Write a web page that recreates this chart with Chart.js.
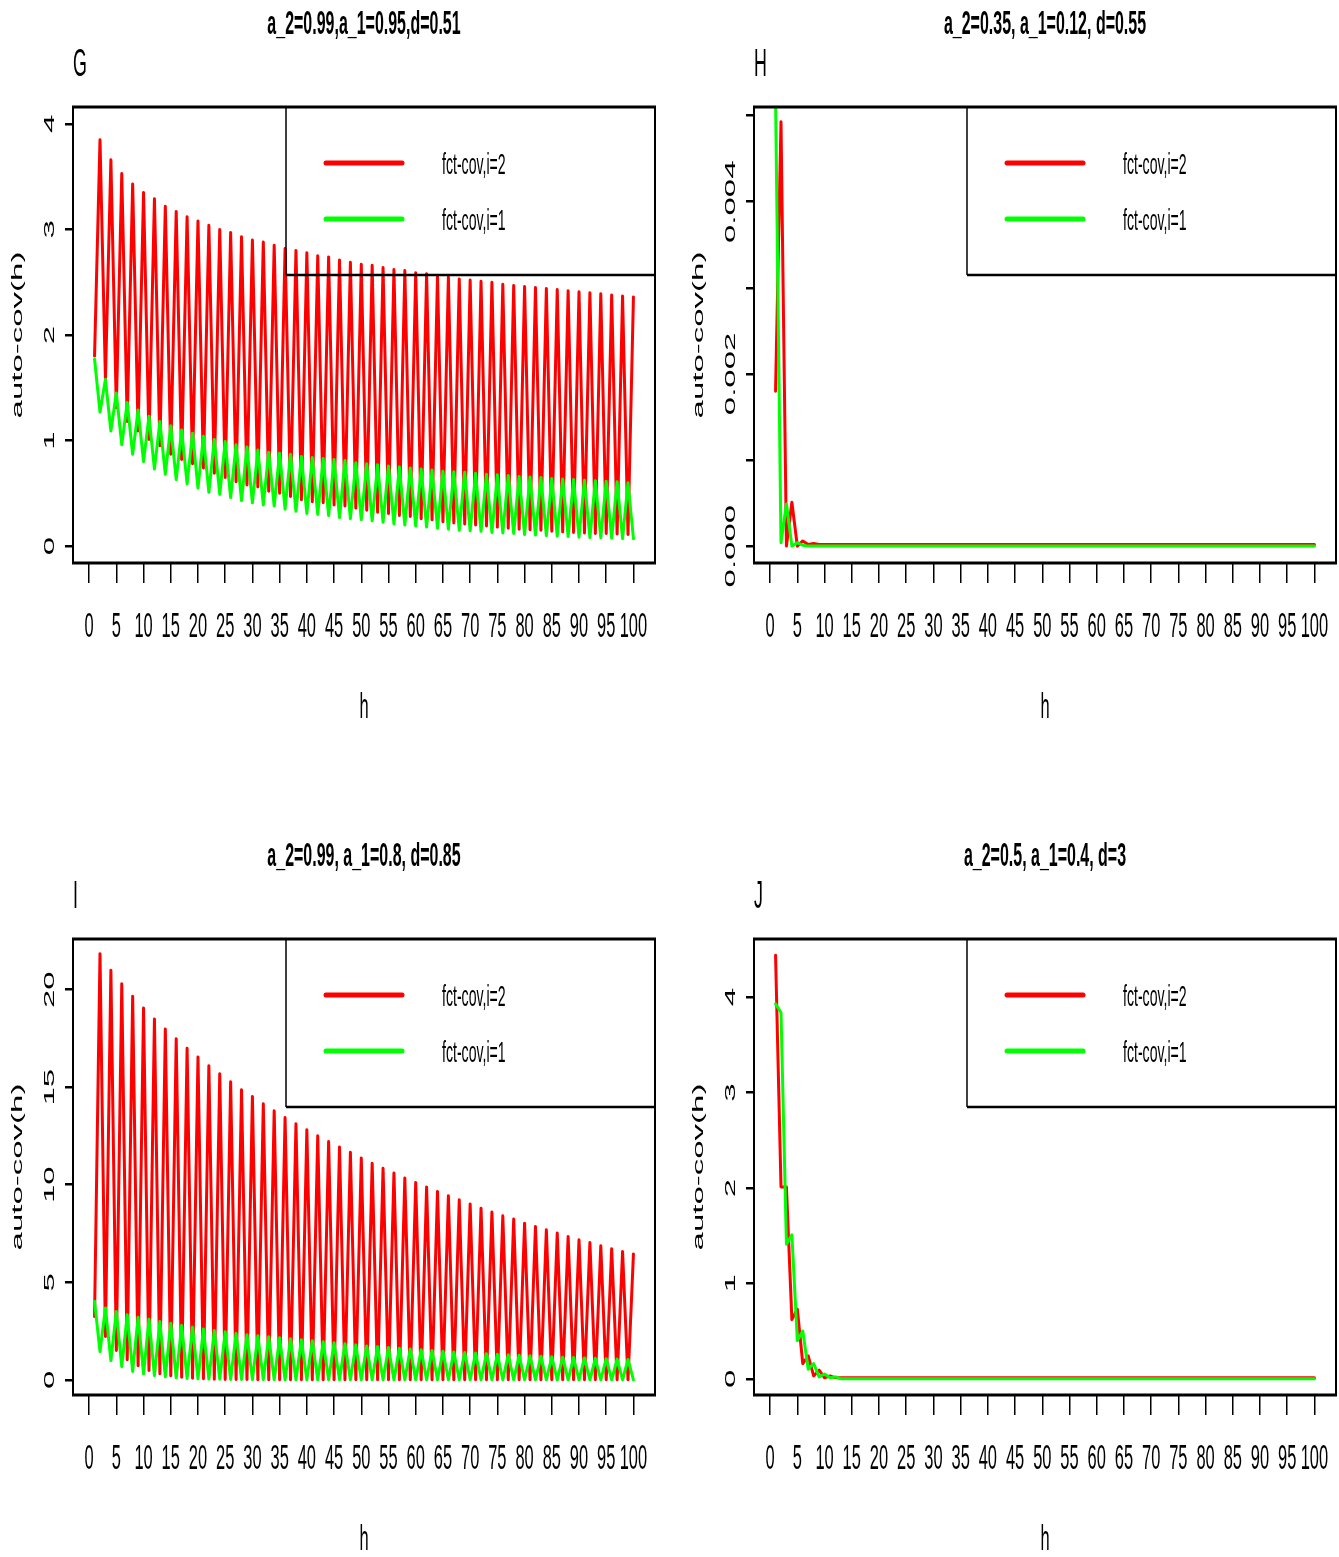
<!DOCTYPE html>
<html><head><meta charset="utf-8">
<script src="https://cdn.jsdelivr.net/npm/chart.js@4.4.1/dist/chart.umd.min.js"></script>
<style>
html,body{margin:0;padding:0;background:#fff;overflow:hidden;width:1339px;height:1557px}
canvas{position:absolute;display:block}
</style></head><body>
<canvas id="cG" width="669" height="725" style="left:0;top:0"></canvas>
<canvas id="cH" width="658" height="725" style="left:681px;top:0"></canvas>
<canvas id="cI" width="669" height="725" style="left:0;top:832px"></canvas>
<canvas id="cJ" width="658" height="725" style="left:681px;top:832px"></canvas>
<script>
// ---------- data ----------
const lags = [1,2,3,4,5,6,7,8,9,10,11,12,13,14,15,16,17,18,19,20,21,22,23,24,25,26,27,28,29,30,31,32,33,34,35,36,37,38,39,40,41,42,43,44,45,46,47,48,49,50,51,52,53,54,55,56,57,58,59,60,61,62,63,64,65,66,67,68,69,70,71,72,73,74,75,76,77,78,79,80,81,82,83,84,85,86,87,88,89,90,91,92,93,94,95,96,97,98,99,100];
const xTicks = [0,5,10,15,20,25,30,35,40,45,50,55,60,65,70,75,80,85,90,95,100];
const xTickLabels = ['0','5','10','15','20','25','30','35','40','45','50','55','60','65','70','75','80','85','90','95','100'];
const seriesLabels = ['fct-cov,i=2','fct-cov,i=1'];

const gRed = [1.80,3.85,1.58,3.66,1.31,3.53,1.18,3.43,1.09,3.35,
1.01,3.29,0.95,3.22,0.87,3.17,0.82,3.12,0.78,3.08,
0.74,3.04,0.69,3.00,0.65,2.97,0.61,2.93,0.58,2.90,
0.56,2.88,0.52,2.85,0.50,2.82,0.47,2.80,0.44,2.78,
0.42,2.75,0.41,2.74,0.39,2.71,0.38,2.69,0.36,2.67,
0.34,2.66,0.32,2.64,0.31,2.62,0.29,2.61,0.28,2.59,
0.26,2.58,0.25,2.56,0.23,2.55,0.22,2.53,0.21,2.52,
0.20,2.51,0.19,2.50,0.18,2.48,0.17,2.47,0.16,2.46,
0.155,2.45,0.15,2.44,0.14,2.43,0.135,2.42,0.13,2.41,
0.125,2.40,0.12,2.39,0.12,2.38,0.115,2.37,0.11,2.36];
const gGreen = [1.77,1.27,1.58,1.09,1.45,0.96,1.36,0.87,1.29,0.80,
1.23,0.73,1.18,0.68,1.14,0.63,1.10,0.59,1.07,0.55,
1.04,0.51,1.01,0.49,0.99,0.46,0.96,0.43,0.94,0.41,
0.91,0.39,0.89,0.38,0.88,0.35,0.87,0.33,0.85,0.31,
0.84,0.30,0.83,0.29,0.82,0.27,0.81,0.26,0.79,0.25,
0.78,0.24,0.77,0.225,0.76,0.21,0.75,0.20,0.74,0.19,
0.73,0.18,0.72,0.17,0.71,0.16,0.705,0.15,0.70,0.145,
0.69,0.14,0.68,0.13,0.675,0.125,0.67,0.12,0.66,0.11,
0.655,0.105,0.65,0.10,0.64,0.095,0.635,0.09,0.63,0.085,
0.625,0.08,0.62,0.08,0.615,0.075,0.61,0.07,0.60,0.07];

const hRed = [0.0018,0.00493,0.0,0.00051,0.0,0.00006,0.00002,0.00003,0.00002,0.00002,
0.00002,0.00002,0.00002,0.00002,0.00002,0.00002,0.00002,0.00002,0.00002,0.00002,
0.00002,0.00002,0.00002,0.00002,0.00002,0.00002,0.00002,0.00002,0.00002,0.00002,
0.00002,0.00002,0.00002,0.00002,0.00002,0.00002,0.00002,0.00002,0.00002,0.00002,
0.00002,0.00002,0.00002,0.00002,0.00002,0.00002,0.00002,0.00002,0.00002,0.00002,
0.00002,0.00002,0.00002,0.00002,0.00002,0.00002,0.00002,0.00002,0.00002,0.00002,
0.00002,0.00002,0.00002,0.00002,0.00002,0.00002,0.00002,0.00002,0.00002,0.00002,
0.00002,0.00002,0.00002,0.00002,0.00002,0.00002,0.00002,0.00002,0.00002,0.00002,
0.00002,0.00002,0.00002,0.00002,0.00002,0.00002,0.00002,0.00002,0.00002,0.00002,
0.00002,0.00002,0.00002,0.00002,0.00002,0.00002,0.00002,0.00002,0.00002,0.00002];
const hGreen = [0.0052,0.00004,0.00049,0.0,0.00004,0.00001,0,0,0,0,
0,0,0,0,0,0,0,0,0,0,
0,0,0,0,0,0,0,0,0,0,
0,0,0,0,0,0,0,0,0,0,
0,0,0,0,0,0,0,0,0,0,
0,0,0,0,0,0,0,0,0,0,
0,0,0,0,0,0,0,0,0,0,
0,0,0,0,0,0,0,0,0,0,
0,0,0,0,0,0,0,0,0,0,
0,0,0,0,0,0,0,0,0,0];

const iRed = [3.25,21.85,2.22,21.0,1.50,20.3,1.03,19.66,0.72,19.06,
0.48,18.5,0.31,17.98,0.21,17.49,0.13,17.0,0.08,16.55,
0.05,16.1,0.03,15.69,0.02,15.28,0.01,14.87,0.01,14.53,
0,14.15,0,13.79,0,13.45,0,13.13,0,12.82,
0,12.51,0,12.22,0,11.93,0,11.66,0,11.37,
0,11.1,0,10.85,0,10.6,0,10.34,0,10.12,
0,9.88,0,9.66,0,9.44,0,9.23,0,9.01,
0,8.80,0,8.60,0,8.41,0,8.24,0,8.03,
0,7.86,0,7.69,0,7.52,0,7.35,0,7.18,
0,7.04,0,6.87,0,6.72,0,6.58,0,6.45];
const iGreen = [4.02,1.45,3.68,0.99,3.50,0.68,3.33,0.43,3.21,0.31,
3.11,0.21,2.99,0.15,2.90,0.10,2.79,0.07,2.70,0.05,
2.60,0.04,2.53,0.03,2.46,0.02,2.38,0.02,2.31,0.01,
2.26,0.01,2.21,0.01,2.15,0,2.10,0,2.05,0,
2.00,0,1.95,0,1.90,0,1.85,0,1.79,0,
1.73,0,1.70,0,1.66,0,1.62,0,1.58,0,
1.54,0,1.50,0,1.46,0,1.43,0,1.40,0,
1.37,0,1.34,0,1.31,0,1.28,0,1.26,0,
1.23,0,1.21,0,1.18,0,1.16,0,1.14,0,
1.12,0,1.10,0,1.08,0,1.06,0,1.04,0];

const jRed = [4.44,2.01,2.01,0.62,0.73,0.16,0.24,0.03,0.09,0.01,
0.03,0.01,0.01,0.01,0.01,0.01,0.01,0.01,0.01,0.01,
0.01,0.01,0.01,0.01,0.01,0.01,0.01,0.01,0.01,0.01,
0.01,0.01,0.01,0.01,0.01,0.01,0.01,0.01,0.01,0.01,
0.01,0.01,0.01,0.01,0.01,0.01,0.01,0.01,0.01,0.01,
0.01,0.01,0.01,0.01,0.01,0.01,0.01,0.01,0.01,0.01,
0.01,0.01,0.01,0.01,0.01,0.01,0.01,0.01,0.01,0.01,
0.01,0.01,0.01,0.01,0.01,0.01,0.01,0.01,0.01,0.01,
0.01,0.01,0.01,0.01,0.01,0.01,0.01,0.01,0.01,0.01,
0.01,0.01,0.01,0.01,0.01,0.01,0.01,0.01,0.01,0.01];
const jGreen = [3.93,3.84,1.41,1.51,0.40,0.50,0.10,0.16,0.02,0.05,
0.01,0.02,0,0,0,0,0,0,0,0,
0,0,0,0,0,0,0,0,0,0,
0,0,0,0,0,0,0,0,0,0,
0,0,0,0,0,0,0,0,0,0,
0,0,0,0,0,0,0,0,0,0,
0,0,0,0,0,0,0,0,0,0,
0,0,0,0,0,0,0,0,0,0,
0,0,0,0,0,0,0,0,0,0,
0,0,0,0,0,0,0,0,0,0];

const gYTicks = [0,1,2,3,4];             const gYLabels = ['0','1','2','3','4'];
const hYTicks = [0,0.001,0.002,0.003,0.004,0.005]; const hYLabels = ['0.000','','0.002','','0.004',''];
const iYTicks = [0,5,10,15,20];          const iYLabels = ['0','5','10','15','20'];
const jYTicks = [0,1,2,3,4];             const jYLabels = ['0','1','2','3','4'];

const titles = ['a_2=0.99,a_1=0.95,d=0.51','a_2=0.35, a_1=0.12, d=0.55','a_2=0.99, a_1=0.8, d=0.85','a_2=0.5, a_1=0.4, d=3'];
const letters = ['G','H','I','J'];
const xTitle = 'h';
const yTitle = 'auto-cov(h)';

// ---------- drawing helpers ----------
const SX = 0.47;
const FONT = '"Liberation Sans", Arial, Helvetica, sans-serif';
const AREA = {left:73, top:107, right:655, bottom:563};
const CH = 725;

function txt(ctx, s, x, y, size, opt) {
  opt = opt || {};
  ctx.save();
  ctx.translate(x, y);
  ctx.scale(opt.sx || SX, 1);
  if (opt.rot) ctx.rotate(opt.rot);
  ctx.font = (opt.bold ? 'bold ' : '') + size + 'px ' + FONT;
  ctx.textAlign = opt.align || 'center';
  ctx.textBaseline = 'middle';
  ctx.fillStyle = '#000';
  ctx.fillText(s, 0, 0);
  ctx.restore();
}
function line(ctx, x1, y1, x2, y2, w) {
  ctx.beginPath(); ctx.lineWidth = w; ctx.strokeStyle = '#000';
  ctx.moveTo(x1, y1); ctx.lineTo(x2, y2); ctx.stroke();
}

const decor = {
  id: 'rdecor',
  afterDraw(chart, args, o) {
    const ctx = chart.ctx, a = chart.chartArea;
    const xs = chart.scales.x, ys = chart.scales.y;
    ctx.save();
    // plot box
    line(ctx, a.left - 1, a.top, a.right + 1, a.top, 3);
    line(ctx, a.left - 1, a.bottom, a.right + 1, a.bottom, 3);
    line(ctx, a.left, a.top, a.left, a.bottom, 2);
    line(ctx, a.right, a.top, a.right, a.bottom, 2);
    // title and letter
    const cx = (a.left + a.right) / 2;
    txt(ctx, o.title, cx, 25, 34, {bold: true});
    txt(ctx, o.letter, a.left, 66, 38, {align: 'left'});
    // x tick labels
    xTicks.forEach((v, i) => txt(ctx, xTickLabels[i], xs.getPixelForValue(v), 627, 35));
    txt(ctx, xTitle, cx, 708, 35);
    // y tick labels (rotated)
    o.yTicks.forEach((v, i) => {
      if (o.yLabels[i]) txt(ctx, o.yLabels[i], 50, ys.getPixelForValue(v), 33, {rot: -Math.PI / 2});
    });
    txt(ctx, yTitle, 18, (a.top + a.bottom) / 2, 33, {rot: -Math.PI / 2});
    // legend (transparent box)
    const lx = 286, lb = 275;
    line(ctx, lx, a.top, lx, lb, 1.5);
    line(ctx, lx, lb, a.right + 1, lb, 2.5);
    chart.data.datasets.slice().sort((p, q) => p.legendRank - q.legendRank).forEach((ds, k) => {
      const yy = 163 + k * 56;
      ctx.beginPath(); ctx.lineWidth = 5; ctx.strokeStyle = ds.borderColor; ctx.lineCap = 'round';
      ctx.moveTo(326, yy); ctx.lineTo(402, yy); ctx.stroke();
      txt(ctx, ds.label, 442, yy + 3, 30, {align: 'left'});
    });
    ctx.restore();
  }
};

function makeChart(id, width, red, green, yMin, yMax, yTicks, yLabels, title, letter) {
  const common = {borderWidth: 3, pointRadius: 0, tension: 0, fill: false, borderJoinStyle: 'round', borderCapStyle: 'round'};
  new Chart(document.getElementById(id), {
    type: 'line',
    data: {
      datasets: [
        Object.assign({label: seriesLabels[0], legendRank: 0, order: 1, data: lags.map((h, i) => ({x: h, y: red[i]})), borderColor: '#ff0000'}, common),
        Object.assign({label: seriesLabels[1], legendRank: 1, order: 0, data: lags.map((h, i) => ({x: h, y: green[i]})), borderColor: '#00ff00'}, common)
      ]
    },
    options: {
      responsive: false, animation: false, devicePixelRatio: 1,
      layout: {padding: {left: 0, top: AREA.top, right: width - AREA.right, bottom: 0}},
      plugins: {legend: {display: false}, title: {display: false}, tooltip: {enabled: false},
        rdecor: {title, letter, yTicks, yLabels}},
      scales: {
        x: {type: 'linear', min: -2.96, max: 103.96,
          afterBuildTicks: s => { s.ticks = xTicks.map(v => ({value: v})); },
          afterFit: s => { s.height = CH - AREA.bottom; },
          ticks: {display: false},
          grid: {drawOnChartArea: false, drawTicks: true, tickLength: 20, color: '#000', lineWidth: 1.5},
          border: {display: false}},
        y: {type: 'linear', min: yMin, max: yMax,
          afterBuildTicks: s => { s.ticks = yTicks.map(v => ({value: v})); },
          afterFit: s => { s.width = AREA.left; },
          ticks: {display: false},
          grid: {drawOnChartArea: false, drawTicks: true, tickLength: 8, color: '#000', lineWidth: 2.5},
          border: {display: false}}
      }
    },
    plugins: [decor]
  });
}

makeChart('cG', 669, gRed, gGreen, -0.16, 4.16, gYTicks, gYLabels, titles[0], letters[0]);
makeChart('cH', 658, hRed, hGreen, -0.000196, 0.0051, hYTicks, hYLabels, titles[1], letters[1]);
makeChart('cI', 669, iRed, iGreen, -0.78, 22.6, iYTicks, iYLabels, titles[2], letters[2]);
makeChart('cJ', 658, jRed, jGreen, -0.17, 4.61, jYTicks, jYLabels, titles[3], letters[3]);
</script>
</body></html>
